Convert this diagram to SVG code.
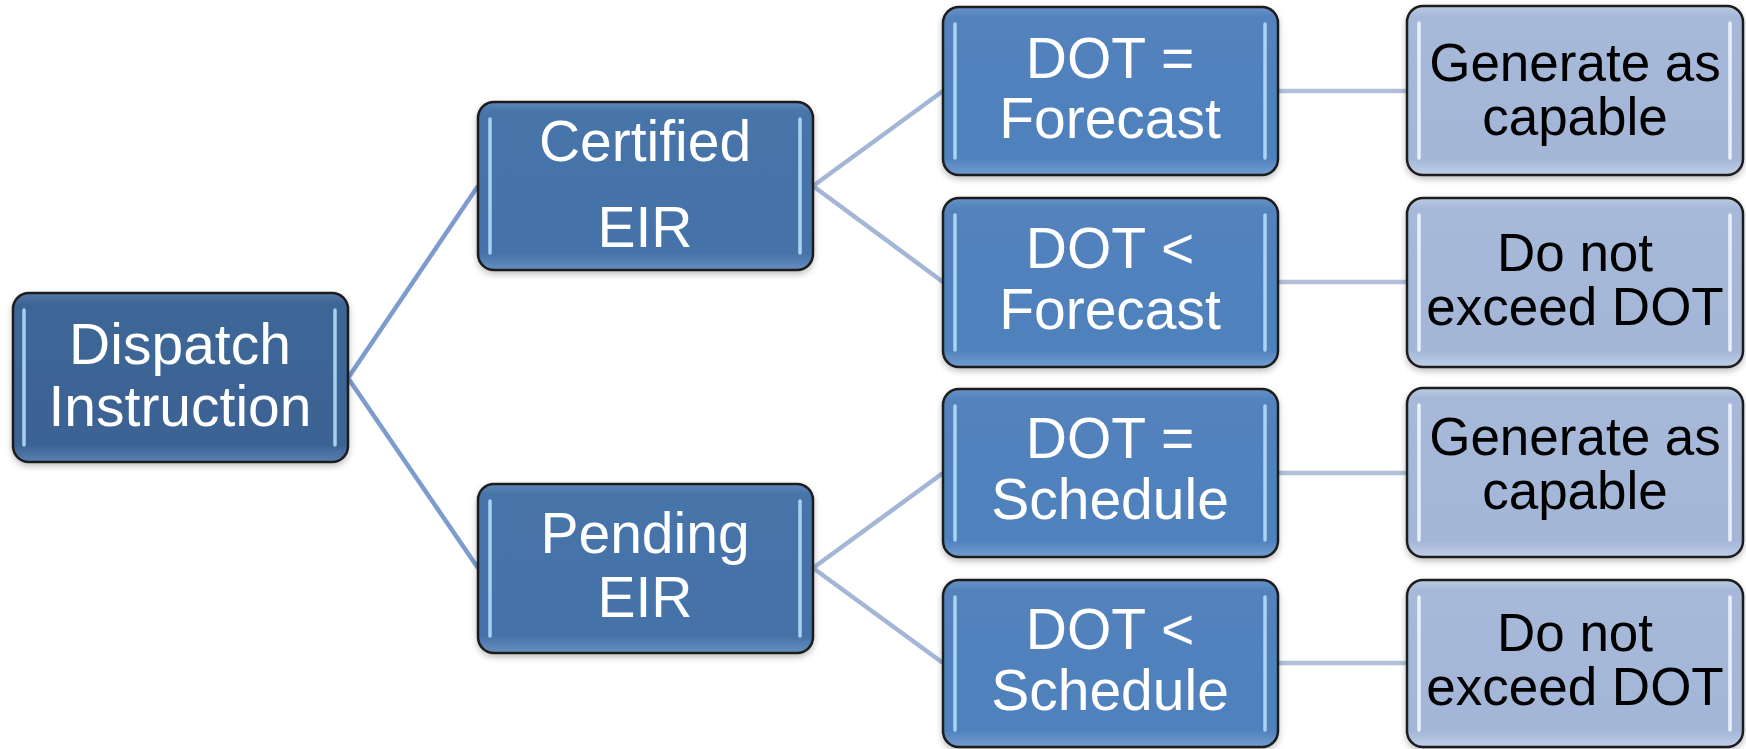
<svg xmlns="http://www.w3.org/2000/svg" width="1746" height="749" viewBox="0 0 1746 749">
<defs>
<linearGradient id="gDark" x1="0" y1="0" x2="0" y2="1">
<stop offset="0" stop-color="#5579a6"/><stop offset="0.06" stop-color="#3e6697"/><stop offset="0.9" stop-color="#3b6393"/><stop offset="1" stop-color="#5a80b0"/>
</linearGradient>
<linearGradient id="gMid" x1="0" y1="0" x2="0" y2="1">
<stop offset="0" stop-color="#5e86b8"/><stop offset="0.06" stop-color="#4674aa"/><stop offset="0.9" stop-color="#4572a8"/><stop offset="1" stop-color="#6890c0"/>
</linearGradient>
<linearGradient id="gBlue" x1="0" y1="0" x2="0" y2="1">
<stop offset="0" stop-color="#6a93c8"/><stop offset="0.06" stop-color="#5282bd"/><stop offset="0.9" stop-color="#4f81bd"/><stop offset="1" stop-color="#739dd0"/>
</linearGradient>
<linearGradient id="gLight" x1="0" y1="0" x2="0" y2="1">
<stop offset="0" stop-color="#bccbe3"/><stop offset="0.06" stop-color="#a6b9d9"/><stop offset="0.9" stop-color="#a3b6d7"/><stop offset="1" stop-color="#bfcfe8"/>
</linearGradient>
<filter id="sh" x="-5%" y="-5%" width="110%" height="115%">
<feDropShadow dx="0" dy="3" stdDeviation="3" flood-color="#000" flood-opacity="0.25"/>
</filter>
</defs>
<style>
.box{stroke:#1c1c1c;stroke-width:2.5;filter:url(#sh)}
.hl{stroke:#b4dcfb;stroke-width:3.5;stroke-linecap:round;opacity:0.9}
.hlw{stroke:#f2f6fc;stroke-width:3.5;stroke-linecap:round;opacity:0.9}
.tw{font-family:"Liberation Sans",Arial,sans-serif;font-size:57px;fill:#ffffff;text-anchor:middle}
.tb{font-family:"Liberation Sans",Arial,sans-serif;font-size:53px;fill:#000000;text-anchor:middle}
.c1{stroke:#7e9bcd;stroke-width:4.5;fill:none}
.c2{stroke:#a3b6d6;stroke-width:4.5;fill:none}
.c3{stroke:#b3bfd9;stroke-width:4.5;fill:none}
</style>
<g id="connectors">
<line class="c1" x1="348" y1="378" x2="478" y2="186"/>
<line class="c1" x1="348" y1="378" x2="478" y2="568"/>
<line class="c2" x1="813" y1="186" x2="943" y2="91"/>
<line class="c2" x1="813" y1="186" x2="943" y2="282"/>
<line class="c2" x1="813" y1="568" x2="943" y2="473"/>
<line class="c2" x1="813" y1="568" x2="943" y2="663"/>
<line class="c3" x1="1278" y1="91" x2="1407" y2="91"/>
<line class="c3" x1="1278" y1="282" x2="1407" y2="282"/>
<line class="c3" x1="1278" y1="473" x2="1407" y2="473"/>
<line class="c3" x1="1278" y1="663" x2="1407" y2="663"/>
</g>
<g id="n-dispatch">
<rect class="box" x="13" y="293" width="335" height="169" rx="16" fill="url(#gDark)"/>
<line class="hl" x1="24" y1="310" x2="24" y2="445"/><line class="hl" x1="335" y1="310" x2="335" y2="445"/>
<text class="tw"><tspan x="180" y="364">Dispatch</tspan><tspan x="180" y="426">Instruction</tspan></text>
</g>
<g id="n-certified">
<rect class="box" x="478" y="102" width="335" height="168" rx="16" fill="url(#gMid)"/>
<line class="hl" x1="490" y1="119" x2="490" y2="253"/><line class="hl" x1="800" y1="119" x2="800" y2="253"/>
<text class="tw"><tspan x="645" y="161">Certified</tspan><tspan x="645" y="247">EIR</tspan></text>
</g>
<g id="n-pending">
<rect class="box" x="478" y="484" width="335" height="169" rx="16" fill="url(#gMid)"/>
<line class="hl" x1="490" y1="501" x2="490" y2="636"/><line class="hl" x1="800" y1="501" x2="800" y2="636"/>
<text class="tw"><tspan x="645" y="553">Pending</tspan><tspan x="645" y="617">EIR</tspan></text>
</g>
<g id="n-dot-eq-forecast">
<rect class="box" x="943" y="7" width="335" height="168" rx="16" fill="url(#gBlue)"/>
<line class="hl" x1="955" y1="24" x2="955" y2="158"/><line class="hl" x1="1265" y1="24" x2="1265" y2="158"/>
<text class="tw"><tspan x="1110" y="78">DOT =</tspan><tspan x="1110" y="138">Forecast</tspan></text>
</g>
<g id="n-dot-lt-forecast">
<rect class="box" x="943" y="198" width="335" height="169" rx="16" fill="url(#gBlue)"/>
<line class="hl" x1="955" y1="215" x2="955" y2="350"/><line class="hl" x1="1265" y1="215" x2="1265" y2="350"/>
<text class="tw"><tspan x="1110" y="268">DOT &lt;</tspan><tspan x="1110" y="329">Forecast</tspan></text>
</g>
<g id="n-dot-eq-schedule">
<rect class="box" x="943" y="389" width="335" height="168" rx="16" fill="url(#gBlue)"/>
<line class="hl" x1="955" y1="406" x2="955" y2="540"/><line class="hl" x1="1265" y1="406" x2="1265" y2="540"/>
<text class="tw"><tspan x="1110" y="458">DOT =</tspan><tspan x="1110" y="519">Schedule</tspan></text>
</g>
<g id="n-dot-lt-schedule">
<rect class="box" x="943" y="580" width="335" height="167" rx="16" fill="url(#gBlue)"/>
<line class="hl" x1="955" y1="597" x2="955" y2="730"/><line class="hl" x1="1265" y1="597" x2="1265" y2="730"/>
<text class="tw"><tspan x="1110" y="649">DOT &lt;</tspan><tspan x="1110" y="710">Schedule</tspan></text>
</g>
<g id="n-gen-1">
<rect class="box" x="1407" y="6" width="336" height="169" rx="16" fill="url(#gLight)"/>
<line class="hlw" x1="1419" y1="23" x2="1419" y2="158"/><line class="hlw" x1="1730" y1="23" x2="1730" y2="158"/>
<text class="tb"><tspan x="1575" y="81">Generate as</tspan><tspan x="1575" y="135">capable</tspan></text>
</g>
<g id="n-notexceed-1">
<rect class="box" x="1407" y="198" width="336" height="169" rx="16" fill="url(#gLight)"/>
<line class="hlw" x1="1419" y1="215" x2="1419" y2="350"/><line class="hlw" x1="1730" y1="215" x2="1730" y2="350"/>
<text class="tb"><tspan x="1575" y="271">Do not</tspan><tspan x="1575" y="325">exceed DOT</tspan></text>
</g>
<g id="n-gen-2">
<rect class="box" x="1407" y="388" width="336" height="169" rx="16" fill="url(#gLight)"/>
<line class="hlw" x1="1419" y1="405" x2="1419" y2="540"/><line class="hlw" x1="1730" y1="405" x2="1730" y2="540"/>
<text class="tb"><tspan x="1575" y="455">Generate as</tspan><tspan x="1575" y="509">capable</tspan></text>
</g>
<g id="n-notexceed-2">
<rect class="box" x="1407" y="580" width="336" height="167" rx="16" fill="url(#gLight)"/>
<line class="hlw" x1="1419" y1="597" x2="1419" y2="730"/><line class="hlw" x1="1730" y1="597" x2="1730" y2="730"/>
<text class="tb"><tspan x="1575" y="651">Do not</tspan><tspan x="1575" y="705">exceed DOT</tspan></text>
</g>
</svg>
